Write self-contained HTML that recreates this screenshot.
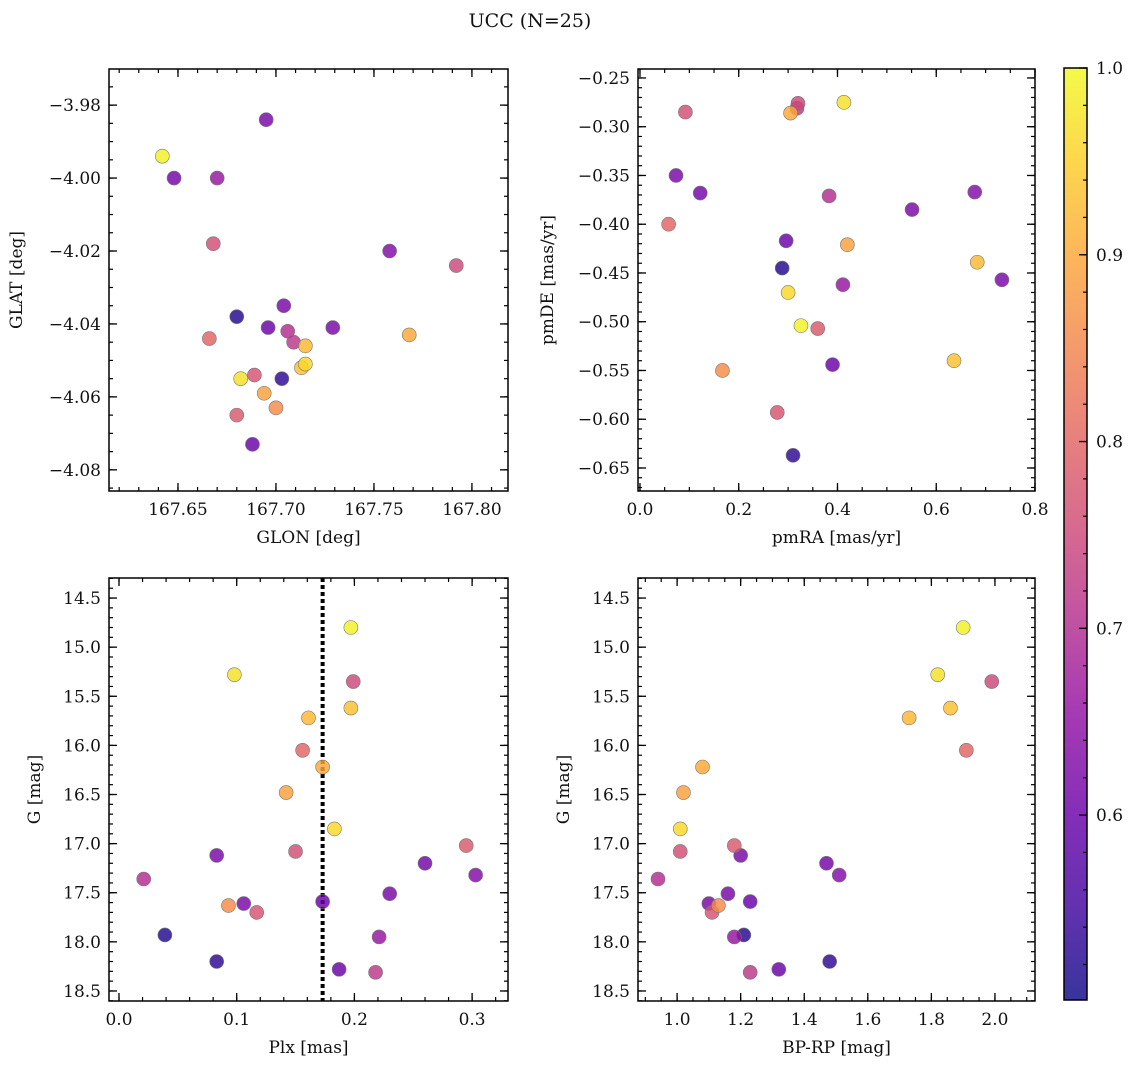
<!DOCTYPE html>
<html><head><meta charset="utf-8"><style>
html,body{margin:0;padding:0;background:#fff;}
svg text{font-family:"DejaVu Serif","Liberation Serif",serif;fill:#111;}
</style></head><body>
<svg id="fig" width="1136" height="1068" xmlns="http://www.w3.org/2000/svg">
<text x="530" y="27" font-size="19" text-anchor="middle">UCC (N=25)</text>
<defs><linearGradient id="cbg" x1="0" y1="1" x2="0" y2="0"></linearGradient></defs>
</svg>
<script>
const glon=[167.642,167.682,167.792,167.713,167.715,167.666,167.768,167.694,167.715,167.668,167.680,167.695,167.648,167.758,167.706,167.704,167.696,167.729,167.700,167.689,167.680,167.670,167.703,167.688,167.709];
const glat=[-3.994,-4.055,-4.024,-4.052,-4.046,-4.044,-4.043,-4.059,-4.051,-4.018,-4.065,-3.984,-4.000,-4.020,-4.042,-4.035,-4.041,-4.041,-4.063,-4.054,-4.038,-4.000,-4.055,-4.073,-4.045];
const pmra=[0.326,0.413,0.320,0.636,0.683,0.058,0.305,0.420,0.300,0.092,0.360,0.073,0.122,0.678,0.383,0.551,0.296,0.733,0.167,0.278,0.288,0.411,0.310,0.390,0.318];
const pmde=[-0.504,-0.275,-0.276,-0.540,-0.439,-0.400,-0.286,-0.421,-0.470,-0.285,-0.507,-0.350,-0.368,-0.367,-0.371,-0.385,-0.417,-0.457,-0.550,-0.593,-0.445,-0.462,-0.637,-0.544,-0.281];
const plx=[0.197,0.098,0.199,0.197,0.161,0.156,0.173,0.142,0.183,0.150,0.295,0.083,0.260,0.303,0.021,0.230,0.173,0.106,0.093,0.117,0.039,0.221,0.083,0.187,0.218];
const gmag=[14.80,15.28,15.35,15.62,15.72,16.05,16.22,16.48,16.85,17.08,17.02,17.12,17.20,17.32,17.36,17.51,17.59,17.61,17.63,17.70,17.93,17.95,18.20,18.28,18.31];
const bprp=[1.90,1.82,1.99,1.86,1.73,1.91,1.08,1.02,1.01,1.01,1.18,1.20,1.47,1.51,0.94,1.16,1.23,1.10,1.13,1.11,1.21,1.18,1.48,1.32,1.23];
const prob=[0.99,0.97,0.75,0.93,0.92,0.80,0.90,0.89,0.96,0.76,0.78,0.62,0.61,0.63,0.70,0.62,0.60,0.62,0.86,0.77,0.52,0.66,0.53,0.60,0.72];
const plxLine=0.173;
const cbMin=0.501, cbMax=1.0;
const cbTicks=[0.6,0.7,0.8,0.9,1.0];

const NS="http://www.w3.org/2000/svg";
const svg=document.getElementById('fig');
function mk(tag,attrs,parent){const e=document.createElementNS(NS,tag);for(const k in attrs)e.setAttribute(k,attrs[k]);(parent||svg).appendChild(e);return e;}
const PL=["#0d0887","#41049d","#6a00a8","#8f0da4","#b12a90","#cc4778","#e16462","#f2844b","#fca636","#fcce25","#f0f921"];
function hex(h){return [1,3,5].map(i=>parseInt(h.substr(i,2),16));}
function plasma(t){t=Math.max(0,Math.min(1,t));const f=t*10,i=Math.min(9,Math.floor(f)),r=f-i;const a=hex(PL[i]),b=hex(PL[i+1]);return 'rgb('+a.map((v,k)=>Math.round(v+(b[k]-v)*r)).join(',')+')';}
function cnorm(p){return (p-cbMin)/(cbMax-cbMin);}
const fmtm=(v,d)=>(v<0?'\u2212':'')+Math.abs(v).toFixed(d);
const FS=17;

function axes(o){
  const g=mk('g',{});
  
  
  const sx=v=>o.x0+(v-o.xd[0])/(o.xd[1]-o.xd[0])*(o.x1-o.x0);
  const sy=v=>o.y1-(v-o.yd[0])/(o.yd[1]-o.yd[0])*(o.y1-o.y0);
  const eps=1e-9;
  function ticks(d,step){const a=[];let s=Math.ceil((Math.min(d[0],d[1])-eps)/step);for(let v=s*step;v<=Math.max(d[0],d[1])+eps;v=(++s)*step)a.push(+v.toFixed(6));return a;}
  ticks(o.xd,o.xminor).forEach(v=>{const X=sx(v);mk('line',{x1:X,x2:X,y1:o.y1,y2:o.y1-4,stroke:'#000','stroke-width':1.2},g);mk('line',{x1:X,x2:X,y1:o.y0,y2:o.y0+4,stroke:'#000','stroke-width':1.2},g);});
  ticks(o.yd,o.yminor).forEach(v=>{const Y=sy(v);mk('line',{x1:o.x0,x2:o.x0+4,y1:Y,y2:Y,stroke:'#000','stroke-width':1.2},g);mk('line',{x1:o.x1,x2:o.x1-4,y1:Y,y2:Y,stroke:'#000','stroke-width':1.2},g);});
  ticks(o.xd,o.xmajor).forEach(v=>{const X=sx(v);mk('line',{x1:X,x2:X,y1:o.y1,y2:o.y1-8,stroke:'#000','stroke-width':1.3},g);mk('line',{x1:X,x2:X,y1:o.y0,y2:o.y0+8,stroke:'#000','stroke-width':1.3},g);
    const t=mk('text',{x:X,y:o.y1+24,'font-size':FS,'text-anchor':'middle'},g);t.textContent=fmtm(v,o.xdec);
    
    });
  ticks(o.yd,o.ymajor).forEach(v=>{const Y=sy(v);mk('line',{x1:o.x0,x2:o.x0+8,y1:Y,y2:Y,stroke:'#000','stroke-width':1.3},g);mk('line',{x1:o.x1,x2:o.x1-8,y1:Y,y2:Y,stroke:'#000','stroke-width':1.3},g);
    const t=mk('text',{x:o.x0-8,y:Y+6,'font-size':FS,'text-anchor':'end'},g);t.textContent=fmtm(v,o.ydec);
    
    });
  const xl=mk('text',{x:(o.x0+o.x1)/2,y:o.y1+52,'font-size':FS,'text-anchor':'middle'},g);xl.textContent=o.xlabel;
  
  
  const yl=mk('text',{x:0,y:0,'font-size':FS,'text-anchor':'middle',transform:`translate(${o.ylx},${(o.y0+o.y1)/2}) rotate(-90)`},g);yl.textContent=o.ylabel;
  
  
  if(o.vline!==undefined){const X=sx(o.vline);const l=mk('line',{x1:X,x2:X,y1:o.y0,y2:o.y1,stroke:'#000','stroke-width':4,'stroke-dasharray':'4 3'},g);
    
    }
  const order=prob.map((p,i)=>i).sort((a,b)=>prob[a]-prob[b]);
  order.forEach(i=>{const c=mk('circle',{cx:sx(o.xs[i]),cy:sy(o.ys[i]),r:7,fill:plasma(cnorm(prob[i])),'fill-opacity':0.82,stroke:'#777','stroke-width':0.6},g);
    
    });
  mk('rect',{x:o.x0,y:o.y0,width:o.x1-o.x0,height:o.y1-o.y0,fill:'none',stroke:'#000','stroke-width':1.5},g);
}
axes({name:'glon-glat-panel',x0:109,x1:508,y0:69,y1:491,xd:[167.6148,167.8184],yd:[-4.0858,-3.9701],xmajor:0.05,xminor:0.01,ymajor:0.02,yminor:0.005,xdec:2,ydec:2,xlabel:'GLON [deg]',ylabel:'GLAT [deg]',ylx:22,xs:glon,ys:glat});
axes({name:'proper-motion-panel',x0:638,x1:1035,y0:69,y1:491,xd:[-0.004,0.8],yd:[-0.6736,-0.2408],xmajor:0.2,xminor:0.05,ymajor:0.05,yminor:0.01,xdec:1,ydec:2,xlabel:'pmRA [mas/yr]',ylabel:'pmDE [mas/yr]',ylx:553,xs:pmra,ys:pmde});
axes({name:'plx-g-panel',x0:109,x1:508,y0:578,y1:1001,xd:[-0.0085,0.3305],yd:[18.602,14.296],xmajor:0.1,xminor:0.02,ymajor:0.5,yminor:0.1,xdec:1,ydec:1,xlabel:'Plx [mas]',ylabel:'G [mag]',ylx:40,xs:plx,ys:gmag,vline:plxLine});
axes({name:'cmd-panel',x0:638,x1:1035,y0:578,y1:1001,xd:[0.877,2.126],yd:[18.602,14.296],xmajor:0.2,xminor:0.05,ymajor:0.5,yminor:0.1,xdec:1,ydec:1,xlabel:'BP-RP [mag]',ylabel:'G [mag]',ylx:569,xs:bprp,ys:gmag});

const grad=document.getElementById('cbg');
for(let k=0;k<=20;k++){const t=k/20;const v=cbMin+t*(cbMax-cbMin);mk('stop',{offset:t,'stop-color':plasma(cnorm(v)),'stop-opacity':0.82},grad);}
const cb=mk('g',{});


const cy0=68,cy1=1000,cx0=1064,cx1=1087;
const cys=v=>cy1-(v-cbMin)/(cbMax-cbMin)*(cy1-cy0);
mk('rect',{x:cx0,y:cy0,width:cx1-cx0,height:cy1-cy0,fill:'url(#cbg)'},cb);
for(let v=0.52;v<=1.0001;v+=0.02){const Y=cys(v);mk('line',{x1:cx1,x2:cx1-4,y1:Y,y2:Y,stroke:'#000','stroke-width':1.2},cb);}
cbTicks.forEach(v=>{const Y=cys(v);mk('line',{x1:cx1,x2:cx1-8,y1:Y,y2:Y,stroke:'#000','stroke-width':1.3},cb);
  const t=mk('text',{x:cx1+9,y:Y+6,'font-size':FS},cb);t.textContent=v.toFixed(1);
  
  });
mk('rect',{x:cx0,y:cy0,width:cx1-cx0,height:cy1-cy0,fill:'none',stroke:'#000','stroke-width':1.5},cb);
</script>
</body></html>
